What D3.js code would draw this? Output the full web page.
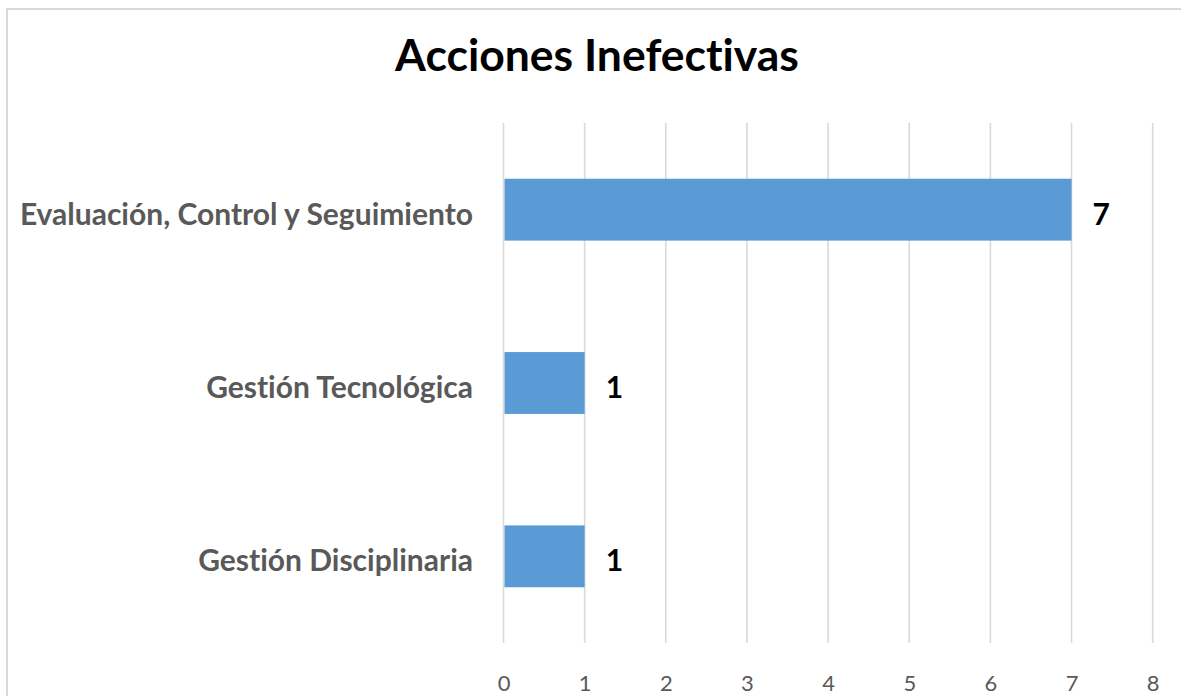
<!DOCTYPE html>
<html>
<head>
<meta charset="utf-8">
<script src="https://cdn.jsdelivr.net/npm/d3@7"></script>
<style>
  body { margin: 0; background: #fff; }
  svg { display: block; }
  text { font-family: Lato, "Open Sans", sans-serif; font-variant-ligatures: none; font-feature-settings: "liga" 0; }
</style>
</head>
<body>
<svg id="chart"></svg>
<script>
const width = 1181, height = 696;

// data
const categories = ["Evaluación, Control y Seguimiento", "Gestión Tecnológica", "Gestión Disciplinaria"];
const values = [7, 1, 1];
const xTicks = [0, 1, 2, 3, 4, 5, 6, 7, 8];
const title = "Acciones Inefectivas";

const svg = d3.select("#chart")
              .attr("width", width)
              .attr("height", height);

// chart frame (right and bottom edges fall outside the picture)
svg.append("rect")
   .attr("x", 7)
   .attr("y", 9)
   .attr("width", 1220)
   .attr("height", 730)
   .attr("fill", "#fff")
   .attr("stroke", "#d9d9d9")
   .attr("stroke-width", 2);

const x = d3.scaleLinear()
            .domain([0, 8])
            .range([503.5, 1152.7]);

const y = d3.scaleBand()
            .domain(categories)
            .range([123, 643])
            .paddingInner(0.643)
            .paddingOuter(0.3215);

// gridlines
svg.append("g")
   .selectAll("line")
   .data(xTicks)
   .enter()
   .append("line")
   .attr("x1", d => x(d))
   .attr("x2", d => x(d))
   .attr("y1", 123)
   .attr("y2", 643)
   .attr("stroke", "#d9d9d9")
   .attr("stroke-width", 1.6);

// x axis tick labels
const xAxis = d3.axisBottom(x)
                .tickValues(xTicks)
                .tickSize(0)
                .tickPadding(0)
                .tickFormat(d3.format("d"));

const gx = svg.append("g")
              .attr("transform", "translate(0,675)")
              .call(xAxis);
gx.select(".domain").remove();
gx.selectAll("text")
  .attr("dy", "0.71em")
  .attr("fill", "#595959")
  .style("font-size", "22px");

// bars
svg.append("g")
   .selectAll("rect")
   .data(values)
   .enter()
   .append("rect")
   .attr("x", x(0) + 1)
   .attr("y", (d, i) => y(categories[i]))
   .attr("width", d => x(d) - x(0) - 1)
   .attr("height", y.bandwidth())
   .attr("fill", "#5b9bd5");

// category labels
svg.append("g")
   .selectAll("text")
   .data(categories)
   .enter()
   .append("text")
   .attr("x", 473)
   .attr("y", d => y(d) + y.bandwidth() / 2 + 15)
   .attr("text-anchor", "end")
   .attr("fill", "#595959")
   .style("font-size", "30px")
   .style("font-weight", "bold")
   .text(d => d);

// value labels
svg.append("g")
   .selectAll("text")
   .data(values)
   .enter()
   .append("text")
   .attr("x", d => x(d) + 21)
   .attr("y", (d, i) => y(categories[i]) + y.bandwidth() / 2 + 15)
   .attr("fill", "#000")
   .style("font-size", "30px")
   .style("font-weight", "bold")
   .text(d => d);

// title
svg.append("text")
   .attr("x", 597)
   .attr("y", 71)
   .attr("text-anchor", "middle")
   .attr("fill", "#000")
   .style("font-size", "44.5px")
   .style("font-weight", "bold")
   .text(title);
</script>
</body>
</html>
